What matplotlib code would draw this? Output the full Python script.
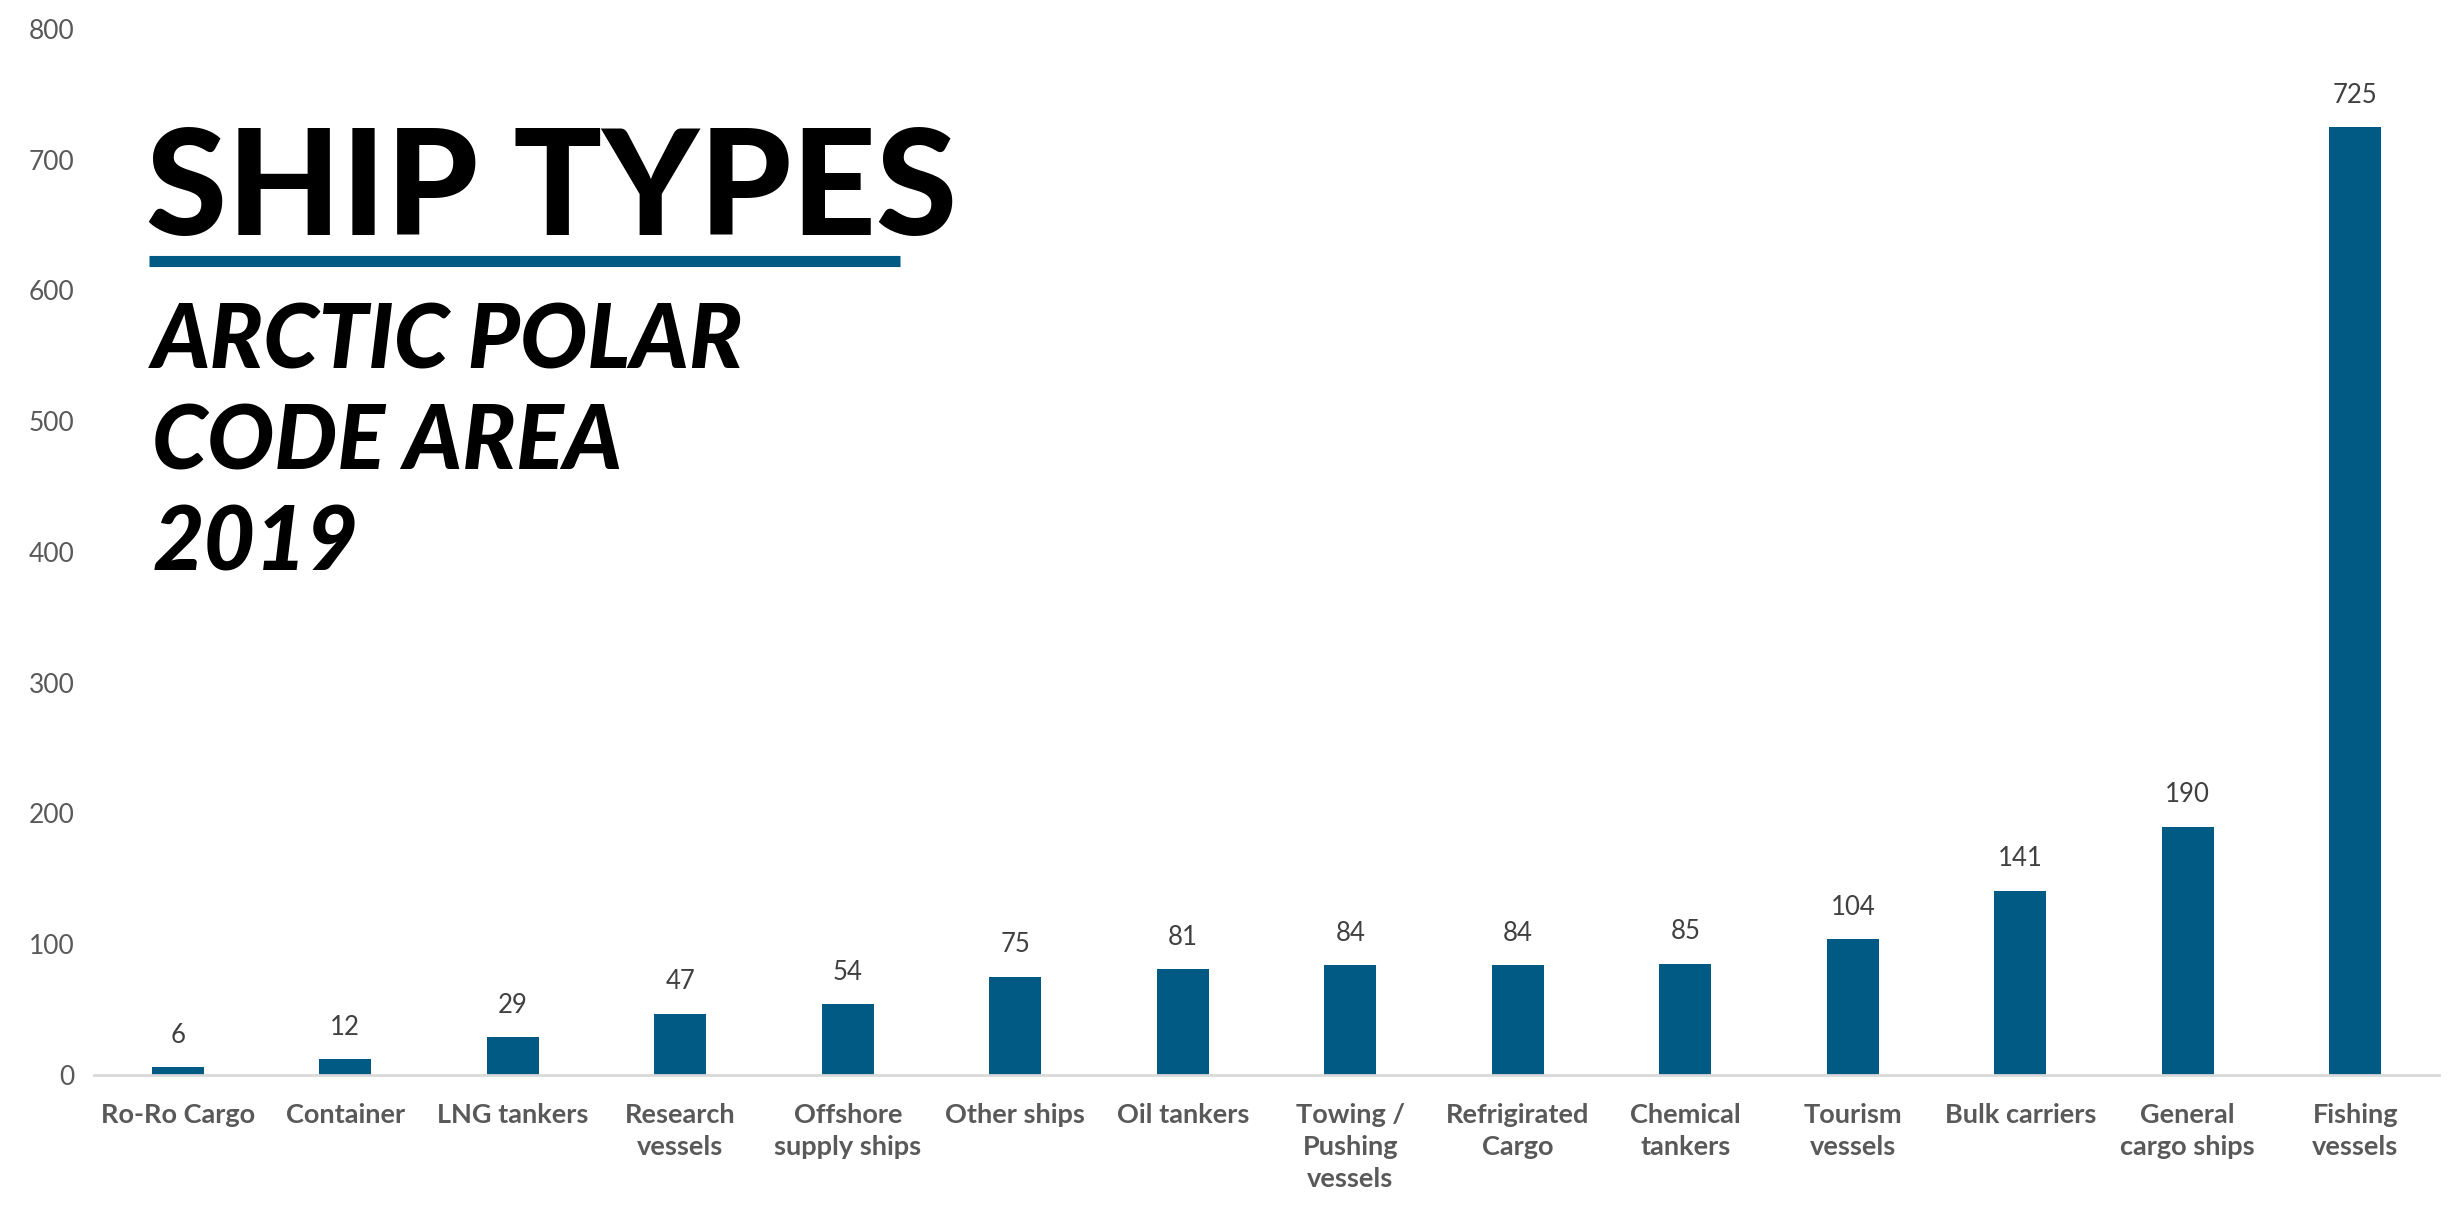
import matplotlib.pyplot as plt

# ship counts, Arctic Polar Code area 2019
categories = ["Ro-Ro Cargo", "Container", "LNG tankers", "Research\nvessels",
              "Offshore\nsupply ships", "Other ships", "Oil tankers",
              "Towing /\nPushing\nvessels", "Refrigirated\nCargo", "Chemical\ntankers",
              "Tourism\nvessels", "Bulk carriers", "General\ncargo ships", "Fishing\nvessels"]
counts = [6, 12, 29, 47, 54, 75, 81, 84, 84, 85, 104, 141, 190, 725]
y_ticks = [0, 100, 200, 300, 400, 500, 600, 700, 800]

bar_color = "#005A84"
plt.rcParams['font.family'] = ['Lato', 'DejaVu Sans']

fig = plt.figure(figsize=(24.55, 12.07), dpi=100)
ax = fig.add_axes([0.0383, 0.1094, 0.9552, 0.8666])

x = range(len(categories))
bars = ax.bar(x, counts, width=0.31, color=bar_color)

# value labels above bars
for b, v in zip(bars, counts):
    ax.annotate(str(v), (b.get_x() + b.get_width() / 2, v), xytext=(0, 14),
                textcoords="offset points", ha="center", va="bottom",
                fontsize=18.5, color="#404040")

ax.set_xlim(-0.5, len(categories) - 0.5)
ax.set_ylim(0, 800)
ax.set_yticks(y_ticks)
ax.set_xticks(list(x))
ax.set_xticklabels(categories, fontsize=19.5, fontweight="bold", color="#595959",
                   linespacing=1.4, va="top")
ax.tick_params(axis="y", length=0, labelsize=19, labelcolor="#595959", pad=14)
ax.tick_params(axis="x", length=0, pad=20)

for s in ["top", "right", "left"]:
    ax.spines[s].set_visible(False)
ax.spines["bottom"].set_color("#D9D9D9")
ax.spines["bottom"].set_linewidth(2)

# title block
fig.text(0.0595, 0.805, "SHIP TYPES", fontsize=106, fontweight="black",
         color="black", va="baseline", ha="left")
fig.add_artist(plt.Line2D([0.0607, 0.3665], [0.784, 0.784], color=bar_color,
                          linewidth=8, solid_capstyle="butt"))
fig.text(0.062, 0.695, "ARCTIC POLAR", fontsize=64, fontweight="black",
         style="italic", va="baseline", ha="left")
fig.text(0.062, 0.611, "CODE AREA", fontsize=64, fontweight="black",
         style="italic", va="baseline", ha="left")
fig.text(0.062, 0.527, "2019", fontsize=64, fontweight="black",
         style="italic", va="baseline", ha="left")

plt.savefig("out.png", dpi=100)
